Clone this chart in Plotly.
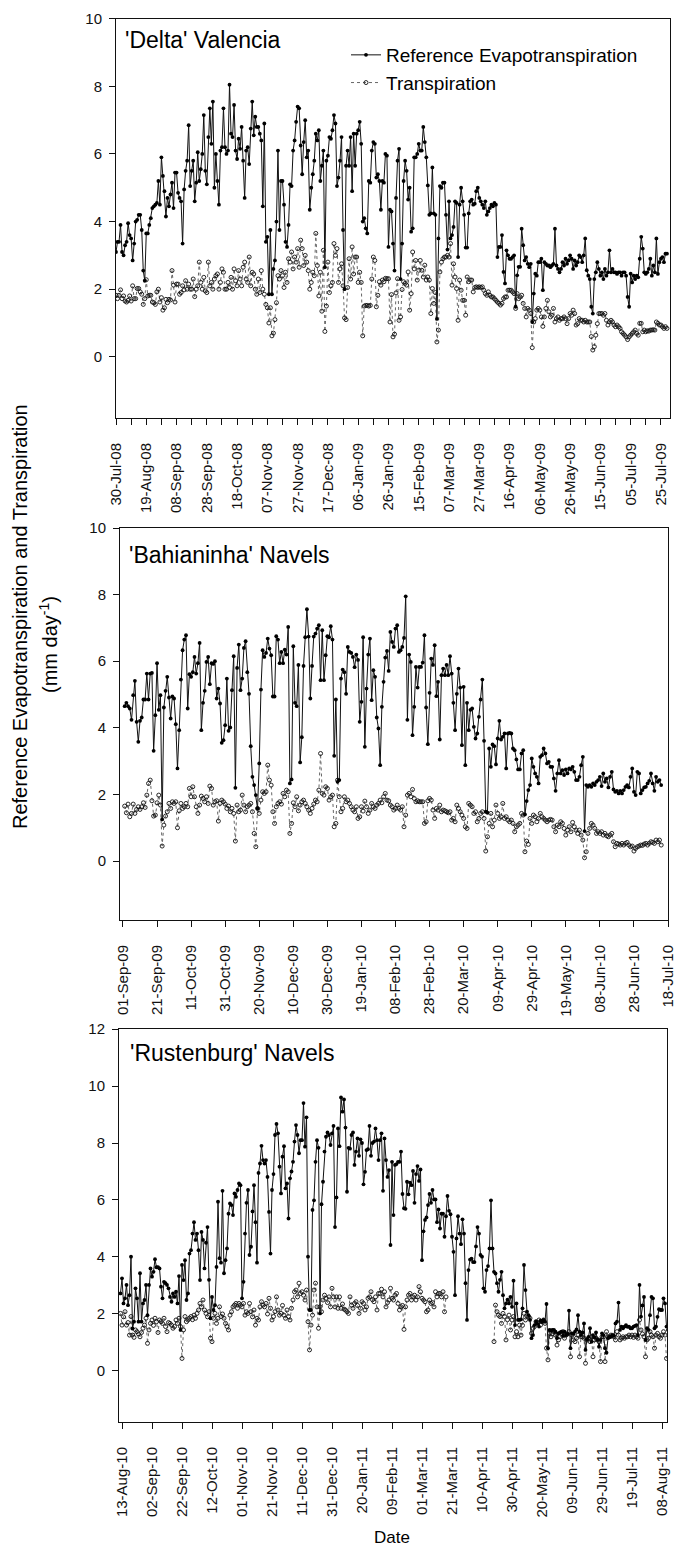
import pandas as pd
import plotly.graph_objects as go

# ---------------- data ----------------
delta_start = "2008-07-30"
delta_et0 = [3.1,3.4,3.4,3.9,3.1,3.0,3.3,3.4,3.95,3.6,
3.5,2.85,3.35,4.0,4.05,4.2,4.2,3.75,2.55,2.25,
3.65,3.65,3.9,4.1,4.4,4.45,4.5,4.55,5.2,4.5,
5.9,5.35,4.9,4.15,4.7,4.45,4.8,5.15,4.4,5.45,
5.45,4.85,4.7,4.6,3.35,4.95,5.5,5.8,6.85,5.05,
5.5,5.8,4.6,5.15,6.05,5.2,5.55,6.0,7.15,5.5,
5.1,6.5,7.35,6.3,7.55,5.0,6.0,5.2,4.5,6.1,
6.2,7.35,6.2,6.0,6.1,8.05,6.6,6.5,7.45,6.1,
5.85,6.45,6.15,6.8,5.8,4.7,6.1,6.2,5.7,6.75,
7.55,6.55,7.1,6.8,6.8,6.6,6.4,4.45,6.9,3.4,
3.55,1.85,3.75,1.85,2.6,2.85,4.0,6.1,3.75,5.2,
5.2,4.5,3.4,3.25,3.9,5.1,5.05,6.1,6.4,6.95,
7.4,7.35,6.25,5.4,6.35,7.0,5.9,6.1,4.35,5.0,
5.4,5.8,6.6,6.4,6.7,5.2,5.65,6.1,2.65,5.8,
5.95,6.5,6.45,6.7,7.15,6.9,5.05,5.3,5.8,6.5,
3.75,2.0,5.65,6.1,5.65,6.5,4.9,6.6,5.65,6.6,
6.7,6.95,6.3,4.0,4.1,3.8,3.65,5.2,5.15,6.1,
6.35,6.3,5.3,5.4,5.2,4.35,5.2,5.15,6.0,5.95,
3.25,4.35,4.3,3.35,2.55,4.7,5.8,6.15,2.3,3.35,
5.2,5.8,5.5,4.65,5.0,3.7,3.8,5.9,5.9,6.0,
6.3,6.1,6.1,6.8,6.35,5.9,5.07,4.2,4.24,5.6,
4.24,4.2,1.12,3.5,5.05,5.0,5.15,5.15,4.2,3.17,
4.6,3.5,3.6,3.84,4.6,4.55,2.95,4.5,5.0,4.6,
4.2,3.23,3.23,4.24,4.6,4.65,4.5,4.53,4.9,5.0,
4.7,4.6,4.5,4.4,4.6,4.2,4.3,4.4,4.5,4.45,
4.55,4.5,2.95,3.25,3.25,3.6,2.51,2.17,3.15,3.0,
2.9,2.9,2.95,3.0,1.48,2.41,2.66,2.66,3.79,3.3,
2.85,2.95,2.75,2.65,2.75,1.03,1.87,2.46,2.4,2.8,
2.8,2.9,1.97,2.8,2.75,2.7,2.7,2.65,2.7,2.75,
3.79,2.7,2.6,2.5,2.6,2.8,2.7,2.9,2.75,2.85,
3.0,2.9,2.6,2.85,2.7,2.8,3.0,2.95,2.8,3.0,
3.5,2.56,2.4,2.3,1.48,1.28,2.3,2.5,2.8,2.6,
2.4,2.5,2.3,2.6,2.4,2.5,3.15,2.5,2.6,2.5,
2.5,2.45,2.5,2.5,2.4,2.5,2.5,2.4,1.77,1.48,
2.46,2.2,2.4,2.3,2.4,2.35,2.9,3.55,3.2,2.5,
2.45,2.5,2.6,2.9,2.4,2.7,2.5,3.5,2.45,2.8,
2.9,2.95,2.8,3.05,3.05]
delta_t = [1.82,1.72,1.82,1.98,1.72,1.8,1.65,1.62,1.67,1.8,
1.65,2.1,1.72,1.72,2.02,2.02,1.92,1.85,1.55,1.72,
2.28,1.8,1.82,1.82,1.62,1.6,1.55,1.92,2.0,1.62,
1.75,1.38,1.45,1.7,1.6,1.7,1.68,2.55,2.12,1.62,
2.15,2.15,1.85,1.9,2.1,1.98,2.25,2.0,2.15,2.0,
2.0,2.3,1.78,2.0,2.1,2.8,2.2,2.0,2.35,1.95,
1.9,2.8,2.1,2.2,2.0,2.3,2.4,2.45,2.0,2.2,
2.6,2.5,2.0,2.0,2.2,2.05,2.35,2.0,2.6,2.25,
2.1,2.55,2.3,2.1,2.65,2.8,2.3,2.2,2.95,2.1,
2.5,2.45,2.0,1.85,2.3,1.9,2.55,2.0,1.85,1.55,
1.45,1.0,1.45,0.62,0.7,1.1,1.6,2.4,2.3,2.55,
2.4,2.05,2.5,2.2,2.9,2.8,3.1,2.6,2.95,2.8,
3.2,2.65,3.45,3.2,2.7,3.0,2.8,2.55,2.0,2.2,
2.5,2.4,3.65,2.7,1.8,2.5,1.35,3.15,0.75,1.5,
2.8,1.9,2.1,2.2,3.35,3.0,3.2,2.2,2.6,2.75,
2.1,1.15,1.1,2.05,2.9,2.3,3.25,2.45,2.95,2.95,
2.2,2.5,2.2,0.62,1.5,1.52,1.52,1.5,1.52,2.3,
2.95,2.85,1.48,1.82,2.22,2.12,2.27,2.22,2.32,2.31,
2.31,1.03,1.84,0.59,0.67,1.89,2.31,1.08,1.18,1.99,
2.22,2.17,2.12,2.51,1.38,1.87,3.1,2.6,2.85,2.27,
2.56,2.85,2.56,2.36,2.71,2.27,2.36,2.27,1.28,2.02,
1.58,1.9,0.44,0.79,2.51,2.8,2.9,2.95,2.95,3.0,
2.95,3.35,2.12,2.75,2.36,2.02,1.08,2.27,1.97,1.67,
1.67,1.23,2.36,2.22,2.27,2.27,1.92,2.05,2.07,2.05,
2.07,2.05,2.07,1.97,1.87,1.82,1.92,1.82,1.77,1.77,
1.72,1.67,1.62,1.58,1.53,1.58,1.72,1.77,1.77,1.97,
1.97,1.97,1.92,1.87,1.43,1.87,1.72,1.77,1.82,1.58,
1.43,1.18,1.43,1.38,1.28,0.27,1.03,1.13,1.38,1.43,
1.38,1.18,0.9,1.18,1.43,1.67,1.33,1.18,1.23,1.43,
1.03,1.13,1.18,1.08,1.13,1.13,1.18,1.13,0.98,1.13,
1.28,1.23,1.38,1.28,0.94,0.98,1.13,1.08,1.08,1.03,
1.08,1.03,1.03,1.03,0.6,0.2,0.3,0.64,0.98,1.28,
1.28,1.28,1.23,1.28,1.08,0.94,1.03,1.08,1.03,0.94,
0.89,0.94,0.89,0.84,0.74,0.69,0.64,0.59,0.51,0.59,
0.64,0.69,0.74,0.79,0.69,0.64,0.99,0.99,0.74,0.79,
0.74,0.77,0.76,0.79,0.79,0.8,0.79,1.03,0.99,0.94,
0.94,0.89,0.84,0.89,0.84]

bahia_start = "2009-09-02"
bahia_et0 = [4.65,4.75,4.65,4.58,4.24,4.98,5.41,4.18,3.58,4.21,
4.31,4.85,4.85,5.63,4.85,5.63,5.65,3.31,4.38,5.94,
4.54,4.98,1.25,4.61,5.11,5.53,4.91,4.28,4.94,4.88,
4.11,2.78,3.93,5.45,6.33,6.65,6.78,4.58,5.61,5.53,
5.67,6.13,5.63,5.94,6.55,3.93,4.75,5.11,5.98,6.13,
5.31,5.94,5.92,6.0,4.88,5.18,4.73,3.55,3.63,4.08,
5.48,3.91,4.01,5.13,6.15,2.2,5.8,6.5,5.13,5.48,
6.4,6.6,5.67,5.02,3.45,2.53,2.28,1.98,1.58,2.93,
5.15,6.33,6.13,6.25,6.68,6.38,6.18,4.94,4.94,6.75,
6.65,5.94,6.28,5.94,6.35,6.2,7.03,2.33,2.45,6.45,
4.75,4.65,5.89,2.96,3.72,5.86,6.72,7.56,6.74,4.88,
5.86,6.74,6.83,6.98,7.08,5.43,6.93,5.43,6.18,6.75,
6.72,7.05,6.65,3.16,4.85,2.38,2.43,5.48,5.75,5.67,
5.02,6.43,6.28,6.25,6.13,5.82,6.2,6.04,4.18,4.78,
6.72,3.43,5.18,6.2,6.68,4.83,5.73,5.53,4.31,3.98,
2.88,4.63,5.38,6.11,6.31,5.71,6.88,6.58,6.43,6.98,
7.08,6.28,6.33,6.43,6.7,7.95,4.24,6.2,5.98,3.78,
4.63,5.83,5.21,5.83,5.83,5.96,6.78,4.61,3.51,5.05,
6.08,5.89,6.48,4.95,5.38,3.65,5.58,5.78,5.58,
5.89,5.58,6.15,5.63,4.75,3.93,5.02,5.78,5.21,3.48,
5.23,2.88,4.75,3.93,4.54,4.58,4.03,3.68,3.83,4.33,
4.85,5.45,3.61,1.48,1.45,3.38,2.83,3.5,3.45,2.9,
3.68,4.21,3.65,3.73,3.83,2.78,3.83,3.85,3.83,3.38,
3.33,3.05,2.75,2.75,3.23,3.33,1.4,1.8,2.13,2.28,
3.08,2.83,2.63,2.53,2.33,3.13,3.18,3.38,3.23,2.93,
2.98,2.83,2.83,2.48,2.11,2.63,3.03,2.63,2.73,2.58,
2.75,2.63,2.78,2.75,2.83,2.68,2.43,2.43,2.53,2.88,
3.13,0.9,2.28,2.23,2.28,2.23,2.33,2.28,2.38,2.43,
2.53,2.25,2.63,2.38,2.48,2.21,2.53,2.68,2.15,2.08,
2.11,2.03,2.11,2.03,2.13,2.23,2.28,2.21,2.53,2.78,
2.08,1.98,2.68,2.63,2.03,2.13,2.21,2.23,2.33,2.41,
2.63,2.33,2.11,2.53,2.38,2.43,2.28]
bahia_t = [1.65,1.45,1.71,1.33,1.43,1.71,1.43,1.55,1.63,1.55,
1.63,1.75,1.61,1.98,2.33,2.43,1.81,1.35,1.38,1.75,
1.98,1.68,0.45,1.08,1.35,1.48,1.73,1.58,1.78,1.73,
1.78,1.0,1.51,1.73,1.58,1.63,1.73,1.63,2.18,1.93,
2.23,1.93,1.63,1.43,1.68,1.95,1.88,1.78,1.93,1.73,
2.25,2.18,1.68,1.78,1.81,1.2,1.73,1.83,1.78,1.71,
1.58,1.65,1.48,1.58,1.43,0.6,1.68,1.48,1.53,1.98,
1.68,1.48,1.63,1.68,1.73,1.48,0.83,0.43,1.58,1.43,
1.83,2.08,2.03,2.08,2.88,2.43,2.28,1.48,1.13,1.63,
1.73,1.78,1.71,2.03,1.93,2.13,2.08,0.83,1.13,1.75,
1.63,1.93,1.51,1.68,1.78,1.83,1.73,1.63,1.53,1.43,
1.58,1.71,1.83,1.78,2.13,3.23,2.03,1.98,2.23,2.18,
1.83,1.93,1.98,1.03,1.13,2.43,1.93,1.48,1.58,1.93,
1.78,1.83,1.73,1.63,1.53,1.48,1.63,1.28,1.33,1.63,
1.5,1.8,1.63,1.43,1.53,1.73,1.63,1.58,1.68,1.73,
1.83,1.75,1.93,2.03,1.83,1.81,1.68,1.63,1.53,1.58,
1.68,1.58,1.53,1.63,1.03,1.38,1.98,2.03,1.93,2.15,
1.88,1.78,1.81,1.78,1.78,1.78,1.13,1.18,1.81,1.88,
1.83,1.53,1.28,1.58,1.53,1.68,1.48,1.53,1.51,1.48,
1.45,1.48,1.23,1.28,1.18,1.68,1.58,1.48,1.38,1.28,
1.03,0.98,1.73,1.68,1.63,1.43,1.48,1.18,1.28,1.43,
1.48,1.28,0.3,0.73,1.13,1.43,1.03,1.23,1.68,1.43,
1.28,1.33,1.73,1.28,1.33,1.23,1.18,1.23,1.13,0.88,
1.03,1.08,1.13,1.43,1.38,0.28,0.6,0.5,1.28,1.13,
1.38,1.33,1.18,1.28,1.43,1.33,1.28,1.23,1.18,1.23,
1.25,1.23,1.03,0.88,1.08,1.03,1.18,1.13,0.98,0.78,
0.93,1.03,0.88,1.16,1.03,0.93,0.83,0.93,0.78,0.63,
0.1,0.28,0.83,0.98,1.13,1.08,0.98,0.83,0.88,0.83,
0.88,0.78,0.83,0.76,0.73,0.78,0.83,0.58,0.43,0.53,
0.51,0.48,0.53,0.48,0.53,0.56,0.48,0.43,0.45,0.3,
0.38,0.43,0.45,0.48,0.47,0.51,0.53,0.48,0.53,0.58,
0.56,0.53,0.63,0.58,0.63,0.48]

rust_start = "2010-08-12"
rust_et0 = [2.72,3.25,2.37,2.55,3.02,2.31,2.66,4.01,1.49,1.73,
2.9,
2.55,1.73,3.43,1.73,2.37,2.49,3.02,1.96,3.02,3.6,
3.31,3.48,3.92,3.64,3.64,3.6,2.96,2.55,3.13,3.08,
3.02,2.9,2.6,2.43,2.72,
2.6,
2.78,2.37,3.33,1.44,3.72,
3.19,3.89,2.49,2.72,4.12,4.24,4.82,5.22,4.6,4.82,
4.24,3.19,4.88,4.6,3.6,
4.5,
5.05,3.2,1.85,2.6,2.14,
2.31,3.65,5.94,3.96,3.8,6.32,3.43,3.89,4.3,5.52,
5.88,5.82,5.47,6.23,6.11,6.35,6.58,6.52,2.55,3.13,
4.82,5.9,6.35,4.07,4.36,
5.6,
6.52,5.22,3.8,6.95,7.28,
7.9,7.4,7.28,7.4,6.81,5.58,4.12,6.35,6.91,8.28,
8.67,8.34,7.17,6.23,7.52,7.89,6.41,6.58,5.35,6.76,
7.0,
7.34,8.05,8.63,8.28,7.64,8.1,8.1,9.4,7.87,8.9,
4.01,2.14,2.14,5.65,5.99,7.34,8.1,7.83,2.02,5.85,
6.64,7.7,8.22,8.37,8.28,7.93,8.34,8.6,5.05,6.09,
8.51,7.89,9.6,9.1,9.53,8.54,6.29,7.83,7.8,8.28,
8.37,7.23,7.7,8.16,7.55,8.13,8.0,6.55,6.99,7.75,
7.78,8.6,7.55,8.0,8.05,8.51,8.1,7.4,
8.1,8.34,6.32,8.16,7.4,6.81,7.05,4.42,7.34,5.47,
7.23,7.26,7.34,7.34,7.7,6.21,5.71,5.69,6.64,6.2,
6.61,6.52,7.02,5.9,6.91,7.19,6.67,7.07,3.89,4.9,
5.3,5.39,5.82,6.21,5.9,6.35,6.02,6.02,5.22,5.67,
5.0,5.52,5.52,4.71,5.43,6.14,5.62,5.5,4.71,4.18,
2.66,4.65,5.43,4.82,4.45,5.32,4.82,3.08,1.79,3.54,
3.91,3.94,3.82,3.82,4.37,5.05,4.82,4.07,4.01,2.9,
2.78,3.54,3.68,4.3,5.99,4.3,3.48,3.42,3.08,2.78,
3.2,3.48,2.66,2.2,2.37,2.5,2.37,2.6,2.25,3.17,
1.61,2.37,1.79,1.79,1.81,2.2,3.72,2.84,2.08,1.96,
1.79,1.15,1.26,1.61,1.73,1.65,1.56,1.77,1.73,1.79,
1.73,2.35,0.8,1.44,1.42,1.44,1.44,1.38,1.15,1.32,
1.35,1.38,1.23,1.38,1.26,1.3,2.12,0.8,1.32,1.3,
1.38,1.46,1.96,1.38,1.26,1.35,1.67,0.74,1.11,1.2,
1.5,1.03,1.26,1.18,1.35,1.1,0.85,1.09,1.32,1.26,
0.8,0.64,1.15,1.2,1.2,1.25,1.23,1.67,1.73,2.4,
1.44,1.56,1.5,1.56,1.61,1.55,1.56,1.5,1.5,1.56,
1.58,1.61,1.26,3.02,1.91,2.3,2.6,1.09,1.5,1.44,
1.96,2.6,2.55,1.5,1.56,1.9,2.17,2.14,2.14,2.55,
2.37,1.56,1.44]
rust_t = [2.02,1.61,1.9,2.08,1.61,1.7,1.26,1.91,1.26,1.18,
1.44,1.38,1.3,1.2,1.35,1.5,1.61,1.85,0.97,1.44,
1.67,1.79,1.6,1.85,1.73,1.35,1.79,1.73,1.67,1.85,
1.56,1.38,1.7,1.67,1.61,1.5,1.56,1.79,1.67,1.85,
1.56,0.44,1.44,1.91,1.73,1.79,1.85,1.91,1.8,1.96,
1.85,2.02,2.14,2.37,2.25,2.49,2.14,2.02,1.9,2.08,
1.15,1.03,1.85,2.02,1.67,1.85,2.25,1.91,2.0,1.85,
1.67,1.56,1.44,1.96,2.08,2.25,2.31,2.37,2.2,2.37,
2.31,2.25,2.37,1.96,2.08,2.02,2.37,2.08,1.9,2.14,
1.61,1.85,1.79,2.25,2.43,2.31,2.25,2.37,2.0,2.55,
2.2,1.79,1.91,2.08,2.6,2.14,1.96,2.02,2.3,1.96,
1.85,2.14,1.91,1.79,2.2,2.49,2.78,2.84,2.6,3.08,
2.72,2.78,2.66,2.49,2.84,1.73,0.74,1.61,1.96,2.84,
3.08,2.25,1.5,2.25,2.08,2.49,2.66,2.55,2.4,2.6,
2.25,2.9,2.6,2.25,2.6,2.2,2.6,2.2,2.35,2.17,
2.14,2.08,2.02,2.6,2.31,2.2,2.37,2.43,2.3,2.02,
2.2,2.43,2.37,2.14,2.25,2.55,2.6,2.78,2.5,2.43,
2.6,2.14,2.72,
2.72,2.87,2.6,2.78,2.25,2.4,2.49,2.9,2.55,2.49,
2.66,2.72,2.37,2.14,2.25,2.3,1.46,2.25,2.49,2.66,
2.72,2.49,2.6,2.66,2.49,2.6,2.96,2.78,2.55,2.49,
2.43,2.08,2.14,2.49,2.37,2.4,2.25,2.78,2.6,2.72,
2.72,2.6,2.78,2.08,2.6,
None,None,None,None,None,None,None,None,None,None,
None,None,None,None,None,None,None,None,None,None,
None,None,None,None,None,None,None,None,None,None,None,
1.03,2.31,2.08,1.96,1.91,1.67,2.02,1.91,1.09,1.8,
1.96,1.44,1.79,1.91,1.2,1.38,1.2,1.61,1.26,1.6,
2.02,1.79,1.93,1.91,1.85,1.32,1.5,1.56,1.73,1.7,
1.79,1.61,1.73,1.79,1.67,0.8,0.39,1.32,1.2,1.3,
1.38,1.26,0.91,1.09,1.2,1.32,1.38,1.15,1.26,1.3,
1.38,0.5,1.26,1.09,1.03,1.15,1.26,0.5,1.2,1.2,
1.15,0.27,1.09,1.15,1.03,1.2,0.5,1.09,1.15,1.1,
1.03,0.33,1.2,1.2,0.33,1.38,1.2,1.2,1.26,1.25,
1.2,1.09,1.38,1.26,1.09,1.15,1.2,1.15,1.2,1.2,
1.26,1.2,1.26,1.18,1.26,1.2,1.15,1.79,1.44,1.3,
1.2,0.5,1.09,1.15,1.38,1.26,1.2,0.8,1.26,1.32,
1.2,1.15,1.26,1.38,1.26,0.44,None]

panel_titles = ["'Delta' Valencia", "'Bahianinha' Navels", "'Rustenburg' Navels"]
series_names = ["Reference Evapotranspiration", "Transpiration"]

# ---------------- layout helpers ----------------
W, H = 676, 1547
FONT = "Arial, Liberation Sans, Helvetica, sans-serif"
DAY = 86400000


def px(x):
    return x / W


def py(y):
    return 1 - y / H


panels = [
    dict(start=delta_start, et0=delta_et0, t=delta_t,
         xdom=[px(116), px(670)], ydom=[py(418), py(18.7)],
         xrange=["2008-07-30", "2009-07-31"], yrange=[-1.81, 10], ytop=10,
         tick0="2008-07-30", minor=True, title_xy=(123, 40)),
    dict(start=bahia_start, et0=bahia_et0, t=bahia_t,
         xdom=[px(120), px(668)], ydom=[py(920), py(528)],
         xrange=["2009-08-30 06:00", "2010-07-18"], yrange=[-1.77, 10], ytop=10,
         tick0="2009-09-01", minor=False, title_xy=(127, 555)),
    dict(start=rust_start, et0=rust_et0, t=rust_t,
         xdom=[px(119), px(667)], ydom=[py(1422), py(1029)],
         xrange=["2010-08-11", "2011-08-11 08:00"], yrange=[-1.79, 12], ytop=12,
         tick0="2010-08-13", minor=False, title_xy=(128, 1053)),
]

fig = go.Figure()
annotations = []
layout_axes = {}

for i, p in enumerate(panels):
    n = i + 1
    xa = "x" if n == 1 else f"x{n}"
    ya = "y" if n == 1 else f"y{n}"
    dates = pd.date_range(p["start"], periods=len(p["et0"]), freq="D")
    fig.add_trace(go.Scatter(
        x=dates, y=p["t"], name=series_names[1], xaxis=xa, yaxis=ya,
        mode="lines+markers", connectgaps=False, showlegend=(n == 1), legendrank=2,
        line=dict(color="#666666", width=1, dash="dot"),
        marker=dict(symbol="circle-open", size=4, color="#111111", line=dict(width=0.9)),
    ))
    fig.add_trace(go.Scatter(
        x=dates, y=p["et0"], name=series_names[0], xaxis=xa, yaxis=ya,
        mode="lines+markers", showlegend=(n == 1), legendrank=1,
        line=dict(color="#111111", width=1),
        marker=dict(symbol="circle", size=3.8, color="#000000"),
    ))
    xkey = "xaxis" if n == 1 else f"xaxis{n}"
    ykey = "yaxis" if n == 1 else f"yaxis{n}"
    xaxis = dict(
        type="date", domain=p["xdom"], range=p["xrange"], anchor=ya,
        showline=True, linecolor="#111111", linewidth=1, mirror=True,
        ticks="outside", ticklen=6, tickwidth=1, tickcolor="#111111",
        tick0=p["tick0"], dtick=20 * DAY, tickformat="%d-%b-%y", tickangle=-90,
        tickfont=dict(family=FONT, size=15, color="#111111"),
        ticklabelstandoff=12,
        showgrid=False, zeroline=False, automargin=False,
    )
    if p["minor"]:
        xaxis["minor"] = dict(tick0=p["tick0"], dtick=10 * DAY, ticks="outside",
                              ticklen=6, tickwidth=1, tickcolor="#111111", showgrid=False)
    yaxis = dict(
        domain=p["ydom"], range=p["yrange"], anchor=xa,
        tickmode="array", tickvals=list(range(0, p["ytop"] + 1, 2)),
        showline=True, linecolor="#111111", linewidth=1, mirror=True,
        ticks="outside", ticklen=6, tickwidth=1, tickcolor="#111111",
        tickfont=dict(family=FONT, size=15, color="#111111"),
        ticklabelstandoff=4,
        showgrid=False, zeroline=False, automargin=False,
    )
    layout_axes[xkey] = xaxis
    layout_axes[ykey] = yaxis
    tx, ty = p["title_xy"]
    annotations.append(dict(
        text=panel_titles[i], x=px(tx), y=py(ty), xref="paper", yref="paper",
        xanchor="left", yanchor="middle", showarrow=False,
        font=dict(family=FONT, size=23, color="#000000"),
    ))

annotations.append(dict(
    text="Reference Evapotranspiration and Transpiration", x=px(20), y=py(617),
    xref="paper", yref="paper", xanchor="center", yanchor="middle", textangle=-90,
    showarrow=False, font=dict(family=FONT, size=20, color="#000000"),
))
annotations.append(dict(
    text="(mm day<sup>-1</sup>)", x=px(48), y=py(645),
    xref="paper", yref="paper", xanchor="center", yanchor="middle", textangle=-90,
    showarrow=False, font=dict(family=FONT, size=20, color="#000000"),
))
annotations.append(dict(
    text="Date", x=px(392), y=py(1537), xref="paper", yref="paper",
    xanchor="center", yanchor="middle", showarrow=False,
    font=dict(family=FONT, size=17, color="#000000"),
))

fig.update_layout(
    template="none",
    width=W, height=H,
    margin=dict(l=0, r=0, t=0, b=0, pad=0),
    paper_bgcolor="white", plot_bgcolor="white",
    font=dict(family=FONT, color="#000000"),
    showlegend=True,
    legend=dict(x=px(346), y=py(36), xanchor="left", yanchor="top",
                bgcolor="rgba(0,0,0,0)", borderwidth=0,
                font=dict(family=FONT, size=19, color="#000000"),
                tracegroupgap=0, itemwidth=30),
    annotations=annotations,
    **layout_axes,
)

fig.write_html("out.html")
